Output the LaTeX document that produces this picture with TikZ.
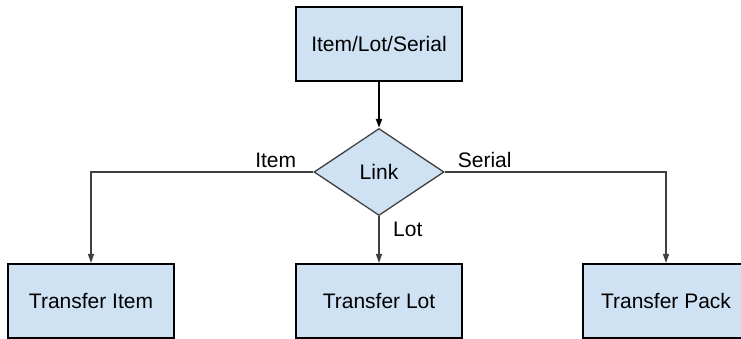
\documentclass[tikz,border=0pt]{standalone}
\usepackage{fontspec}
\setmainfont{Liberation Sans}
\usetikzlibrary{shapes.geometric, arrows.meta}

\definecolor{boxblue}{HTML}{CFE2F3}
\definecolor{linegray}{HTML}{404040}

\begin{document}
\begin{tikzpicture}[
    x = 1pt, y = 1pt,
    font = \fontsize{21}{25}\selectfont,
    block/.style = {rectangle,
      draw = black,
      line width = 2pt,
      fill = boxblue,
      minimum width = 166pt,
      minimum height = 74pt},
    decision/.style = {diamond,
      draw = linegray,
      line width = 1.3pt,
      fill = boxblue,
      inner sep = 0pt,
      minimum width = 130pt,
      minimum height = 87pt},
    flow/.style = {draw = linegray,
      line width = 1.3pt,
      -{Triangle[length = 9pt, width = 6pt]}},
    tag/.style = {inner sep = 0pt}
    ]
    \useasboundingbox (0, 0) rectangle (741, 339);

    \node at (379, 295) [block, name = source] {Item/Lot/Serial};
    \node at (379, 167) [decision, name = link] {Link};
    \node at (91, 38) [block, name = titem] {Transfer Item};
    \node at (379, 38) [block, name = tlot] {Transfer Lot};
    \node at (666, 38) [block, name = tpack] {Transfer Pack};

    \node at ([xshift = -17pt, yshift = 4pt]link.west) [tag, anchor = base east, name = litem] {Item};
    \node at ([xshift = 13pt, yshift = 4pt]link.east) [tag, anchor = base west, name = lserial] {Serial};
    \node at ([xshift = 14pt, yshift = -6pt]link.south) [tag, anchor = north west, name = llot] {Lot};

    \draw [flow, draw = black, line width = 2pt] (source) to (link);
    \draw [flow] (link.west) -| (titem.north);
    \draw [flow] (link.south) to (tlot.north);
    \draw [flow] (link.east) -| (tpack.north);

  \end{tikzpicture}
\end{document}
